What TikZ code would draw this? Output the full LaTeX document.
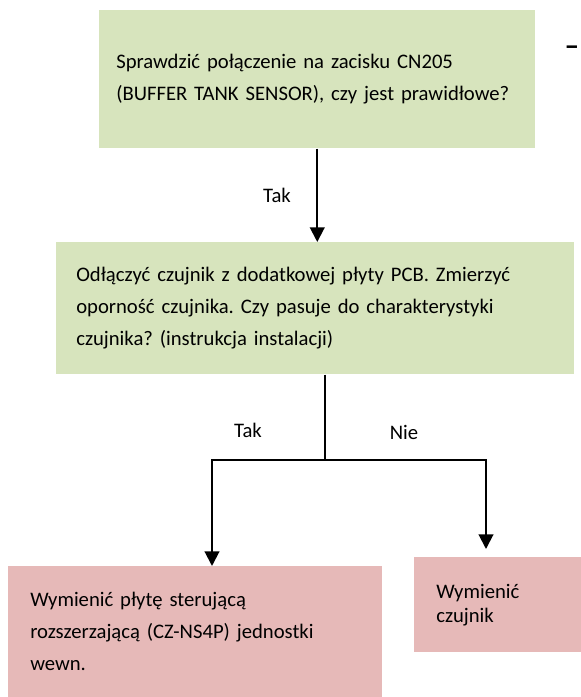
\documentclass[tikz,border=0pt]{standalone}
\usepackage{fontspec}
\setmainfont{Carlito}
\usetikzlibrary{arrows.meta}
\definecolor{askgreen}{HTML}{D7E4BD}
\definecolor{fixpink}{HTML}{E6B9B8}
\frenchspacing
\hyphenpenalty=10000
\begin{document}
\begin{tikzpicture}[x=0.75pt,y=-0.75pt,%
% common options for the question boxes:
askbox/.style = {fill=askgreen, align=left, anchor=north west,
            inner ysep=0pt, font=\fontsize{15.5}{24}\selectfont},
% common options for the action boxes:
fixbox/.style = {fill=fixpink, align=left, anchor=north west,
            inner ysep=0pt, font=\fontsize{15.5}{24}\selectfont},
% labels on the connectors:
lbl/.style = {inner sep=0, font=\fontsize{15.5}{18}\selectfont},
arrow/.style = {line width=1.5pt, -{Triangle[width=11pt,length=11pt]}}]
\useasboundingbox (0,0) rectangle (581,697);
\node[askbox, inner xsep=12.75pt, text width=301.5pt, minimum height=103.5pt] (Q1) at (99,10) {\mbox{Sprawdzić połączenie na zacisku CN205}\\\mbox{(BUFFER TANK SENSOR), czy jest prawidłowe?}};
\node[askbox, inner xsep=15pt, text width=358.5pt, minimum height=99pt] (Q2) at (56,242) {Odłączyć czujnik z dodatkowej płyty PCB. Zmierzyć\\oporność czujnika. Czy pasuje do charakterystyki\\czujnika? (instrukcja instalacji)};
\node[fixbox, inner xsep=16.5pt, text width=247.5pt, minimum height=98.25pt] (A1) at (8,566) {Wymienić płytę sterującą\\rozszerzającą (CZ-NS4P) jednostki\\wewn.};
\node[fixbox, inner xsep=16.5pt, text width=92.25pt, minimum height=71.25pt, font=\fontsize{15.5}{18}\selectfont] (A2) at (414,557) {Wymienić\\czujnik};
\node[lbl] (tak1) at (277,195) {Tak};
\node[lbl] (tak2) at (248,430) {Tak};
\node[lbl] (nie2) at (404,432) {Nie};
\node[lbl, font=\fontsize{22}{22}\selectfont\bfseries] (cut) at (572,51) {–};
\coordinate (split) at (325,460);
\coordinate (ltop) at (212,566);
\coordinate (rtop) at (486,549);
\draw[arrow] (Q1.south) -- (Q1.south |- Q2.north);
\draw[line width=1.5pt] (Q2.south -| split) -- (split);
\draw[arrow] (split) -| (ltop);
\draw[arrow] (split) -| (rtop);
\end{tikzpicture}
\end{document}
